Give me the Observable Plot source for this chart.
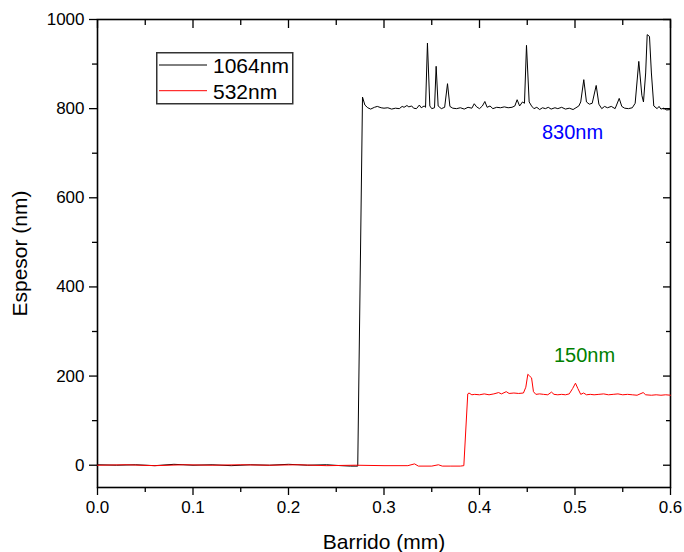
<!DOCTYPE html>
<html>
<head>
<meta charset="utf-8">
<script src="https://cdn.jsdelivr.net/npm/d3@7"></script>
<script src="https://cdn.jsdelivr.net/npm/@observablehq/plot@0.6"></script>
<style>
  html, body { margin: 0; padding: 0; background: #fff; }
  #wrap { position: relative; width: 684px; height: 552px; font-family: "Liberation Sans", Arial, sans-serif; }
  #legend { position: absolute; left: 156px; top: 52px; }
</style>
</head>
<body>
<div id="wrap"><div id="chart"></div><div id="legend"></div></div>
<script>
// ---- data ----
const seriesNames = ["1064nm", "532nm"];
const seriesColors = ["#000000", "#ff0000"];

const x1064 = [0,0.02,0.04,0.06,0.08,0.10,0.12,0.14,0.16,0.18,0.20,0.22,0.24,0.255,0.265,0.2725,
  0.2775,0.2800,0.2830,0.2860,0.2900,0.2930,0.2970,0.3000,0.3040,0.3080,0.3120,0.3160,0.3190,0.3210,0.3240,0.3260,0.3290,0.3310,0.3340,0.3370,0.3390,0.3420,0.3435,0.3455,0.3480,0.3500,0.3529,0.3546,0.3567,0.3600,0.3635,0.3665,0.3690,0.3720,0.3760,0.3800,0.3840,0.3880,0.3920,0.3945,0.3970,0.4000,0.4030,0.4056,0.4080,0.4110,0.4140,0.4180,0.4220,0.4260,0.4300,0.4340,0.4370,0.4394,0.4420,0.4450,0.4471,0.4492,0.4520,0.4545,0.4570,0.4600,0.4630,0.4660,0.4690,0.4720,0.4750,0.4790,0.4820,0.4860,0.4900,0.4940,0.4980,0.5010,0.5040,0.5060,0.5092,0.5120,0.5150,0.5180,0.5222,0.5250,0.5280,0.5310,0.5340,0.5380,0.5420,0.5463,0.5490,0.5520,0.5560,0.5600,0.5630,0.5668,0.5700,0.5717,0.5740,0.5756,0.5780,0.5800,0.5825,0.5860,0.5880,0.5900,0.5930,0.5960,0.6000];
const y1064 = [1,0,1,-1,2,0,1,-1,1,0,2,0,1,-1,-2,-2,
  826,808,802,799,803,805,802,801,802,799,801,800,805,803,807,804,806,801,800,808,802,806,803,947,806,800,802,895,806,800,803,856,805,801,800,802,799,803,801,811,804,800,806,816,803,806,800,803,802,804,802,803,806,820,806,815,812,942,815,806,800,803,798,802,800,803,799,802,800,803,799,801,798,802,806,815,865,815,810,812,852,810,800,805,802,805,800,823,805,801,800,802,812,906,830,815,880,966,962,880,806,800,805,799,801,797,798];

const x532 = [0,0.03,0.06,0.09,0.12,0.15,0.18,0.21,0.24,0.27,0.30,0.325,0.332,0.336,0.35,0.357,0.361,0.37,0.38,0.3836,
  0.3877,0.3890,0.3920,0.3950,0.4000,0.4050,0.4100,0.4150,0.4200,0.4230,0.4280,0.4310,0.4360,0.4410,0.4460,0.4485,0.4506,0.4525,0.4545,0.4565,0.4590,0.4630,0.4670,0.4715,0.4754,0.4780,0.4820,0.4860,0.4900,0.4940,0.4975,0.5005,0.5030,0.5060,0.5090,0.5120,0.5160,0.5200,0.5250,0.5300,0.5350,0.5400,0.5450,0.5500,0.5550,0.5600,0.5650,0.5714,0.5740,0.5800,0.5850,0.5900,0.5950,0.6000];
const y532 = [0,1,-1,1,0,1,0,1,-1,0,-1,-1,3,-2,-2,1,-2,-2,-2,-1,
  160,162,158,159,158,160,158,160,163,160,165,161,162,161,162,175,204,200,196,165,159,160,159,158,164,159,158,159,158,160,172,184,172,159,162,158,159,158,159,160,158,159,160,158,159,158,157,163,158,157,158,157,158,157];

const xMajor = [0, 0.1, 0.2, 0.3, 0.4, 0.5, 0.6];
const xMinor = [0.05, 0.15, 0.25, 0.35, 0.45, 0.55];
const yMajor = [0, 200, 400, 600, 800, 1000];
const yMinor = [100, 300, 500, 700, 900];

const annoText = ["830nm", "150nm"];
const annoX = [0.4974, 0.510];
const annoY = [747, 245];
const annoColor = ["#0000ff", "#008000"];

// ---- build ----
const rows1064 = x1064.map((x, i) => ({x, y: y1064[i]}));
const rows532 = x532.map((x, i) => ({x, y: y532[i]}));
const annos = annoText.map((t, i) => ({t, x: annoX[i], y: annoY[i], c: annoColor[i]}));

const font = "Liberation Sans, Arial, sans-serif";
const chart = Plot.plot({
  width: 684,
  height: 552,
  marginLeft: 97,
  marginRight: 14,
  marginTop: 19,
  marginBottom: 65,
  style: {fontFamily: font, fontSize: "17px", color: "#000", background: "#fff"},
  x: {domain: [0, 0.6]},
  y: {domain: [-50, 1000]},
  marks: [
    Plot.axisX(xMajor, {tickSize: 8, tickPadding: 5, tickFormat: d3.format(".1f"), label: null, fontSize: 17, strokeWidth: 1.3}),
    Plot.axisX(xMinor, {tickSize: 5, text: null, label: null, strokeWidth: 1.3}),
    Plot.axisX(xMajor, {anchor: "top", tickSize: -8, text: null, label: null, strokeWidth: 1.3}),
    Plot.axisX(xMinor, {anchor: "top", tickSize: -5, text: null, label: null, strokeWidth: 1.3}),
    Plot.axisY(yMajor, {tickSize: 8, tickPadding: 5, tickFormat: d3.format("d"), label: null, fontSize: 17, strokeWidth: 1.3}),
    Plot.axisY(yMinor, {tickSize: 5, text: null, label: null, strokeWidth: 1.3}),
    Plot.axisY(yMajor, {anchor: "right", tickSize: -8, text: null, label: null, strokeWidth: 1.3}),
    Plot.axisY(yMinor, {anchor: "right", tickSize: -5, text: null, label: null, strokeWidth: 1.3}),
    Plot.frame({stroke: "#000", strokeWidth: 1.6}),
    Plot.line(rows1064, {x: "x", y: "y", stroke: seriesColors[0], strokeWidth: 1}),
    Plot.line(rows532, {x: "x", y: "y", stroke: seriesColors[1], strokeWidth: 1}),
    Plot.text(annos, {x: "x", y: "y", text: "t", fill: "c", fontSize: 20, textAnchor: "middle", lineAnchor: "middle"}),
    Plot.text(["Barrido (mm)"], {frameAnchor: "bottom", dy: 61, textAnchor: "middle", lineAnchor: "bottom", fontSize: 21, fill: "#000"}),
    Plot.text(["Espesor (nm)"], {frameAnchor: "left", dx: -85, rotate: -90, textAnchor: "middle", lineAnchor: "top", fontSize: 21, fill: "#000"})
  ]
});
document.getElementById("chart").appendChild(chart);

// legend
const lg = d3.select("#legend").append("svg").attr("width", 138).attr("height", 53);
lg.append("rect").attr("x", 0.75).attr("y", 0.75).attr("width", 136).attr("height", 51)
  .attr("fill", "#fff").attr("stroke", "#333").attr("stroke-width", 1.5);
seriesNames.forEach((name, i) => {
  const cy = 13 + i * 25.7;
  lg.append("line").attr("x1", 3).attr("x2", 51).attr("y1", cy).attr("y2", cy)
    .attr("stroke", seriesColors[i]).attr("stroke-width", 1);
  lg.append("text").attr("x", 57).attr("y", cy + 8).attr("font-size", 21)
    .attr("font-family", font).attr("fill", "#000").text(name);
});
</script>
</body>
</html>
